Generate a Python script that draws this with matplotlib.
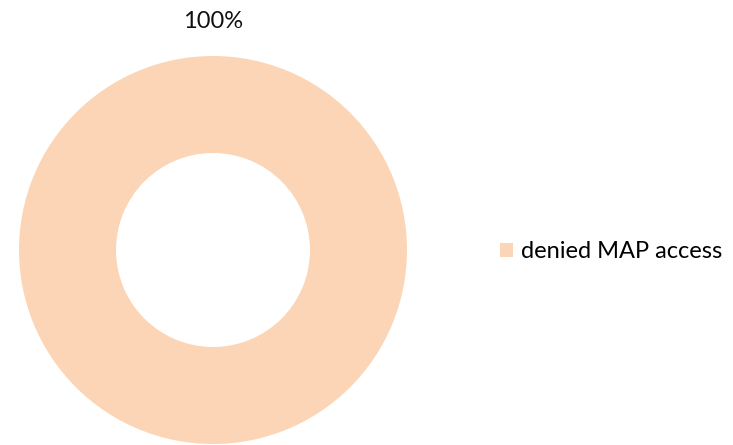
import matplotlib
matplotlib.use("Agg")
import matplotlib.pyplot as plt

labels = ["denied MAP access"]
values = [100]
colors = ["#FBD5B5"]

plt.rcParams["font.family"] = ["Lato", "DejaVu Sans"]

fig = plt.figure(figsize=(7.33, 4.45), dpi=100)
ax = fig.add_axes([19 / 733, 1 / 445, 388 / 733, 388 / 445])

wedges, _ = ax.pie(values, colors=colors, radius=1.0, startangle=90,
                   counterclock=False, wedgeprops=dict(width=0.5, linewidth=0))
ax.set_xlim(-1, 1)
ax.set_ylim(-1, 1)
ax.set_aspect("equal")
ax.axis("off")

# percentage label above the ring
total = sum(values)
fig.text(213 / 733, 1 - 21 / 445, f"{values[0] / total:.0%}", ha="center", va="center",
         fontsize=17, color="#111111")

fig.legend(wedges, labels, loc="center left", bbox_to_anchor=(500 / 733, 1 - 252 / 445),
           frameon=False, fontsize=17, handlelength=0.55, handleheight=0.55,
           handletextpad=0.35, borderpad=0, borderaxespad=0)

fig.savefig("out.png", dpi=100)
